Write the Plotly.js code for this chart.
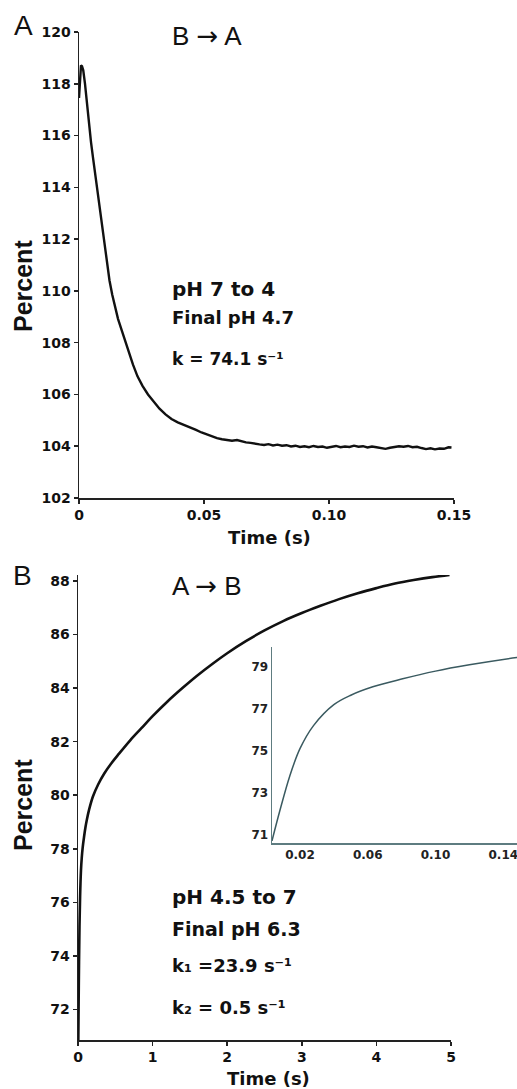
<!DOCTYPE html>
<html>
<head>
<meta charset="utf-8">
<script src="https://cdn.plot.ly/plotly-3.0.1.min.js"></script>
<style>html,body{margin:0;padding:0;background:#fff;}#chart{width:517px;height:1089px;}</style>
</head>
<body>
<div id="chart"></div>
<script>
// Panel A: B -> A, pH 7 to 4
const aTime = [0, 0.0004, 0.0008, 0.0012, 0.0017, 0.0024, 0.0032, 0.0040, 0.0048, 0.0056, 0.0064, 0.0072, 0.0080, 0.0090, 0.0100, 0.0111, 0.0122, 0.0133, 0.0144, 0.0156, 0.0170, 0.0184, 0.0200, 0.0216, 0.0234, 0.0254, 0.0276, 0.0298, 0.0322, 0.0346, 0.0370, 0.0395, 0.0420, 0.0444, 0.0468, 0.0490, 0.0511, 0.0532, 0.0552, 0.0572, 0.0592, 0.0612, 0.0632, 0.0650, 0.0668, 0.0686, 0.0704, 0.0722, 0.0740, 0.0758, 0.0776, 0.0794, 0.0812, 0.0830, 0.0848, 0.0866, 0.0884, 0.0902, 0.0920, 0.0938, 0.0956, 0.0974, 0.0992, 0.1010, 0.1028, 0.1046, 0.1064, 0.1082, 0.1100, 0.1118, 0.1136, 0.1154, 0.1172, 0.1190, 0.1208, 0.1226, 0.1244, 0.1262, 0.1280, 0.1298, 0.1316, 0.1334, 0.1352, 0.1370, 0.1388, 0.1406, 0.1424, 0.1442, 0.1460, 0.1478, 0.1490];
const aPercent = [117.45, 118.3, 118.71, 118.68, 118.52, 118.0, 117.15, 116.35, 115.75, 115.15, 114.58, 114.0, 113.4, 112.62, 111.85, 111.05, 110.4, 109.85, 109.38, 108.92, 108.5, 108.07, 107.62, 107.15, 106.7, 106.33, 106.0, 105.72, 105.45, 105.23, 105.05, 104.92, 104.83, 104.74, 104.63, 104.53, 104.45, 104.37, 104.31, 104.27, 104.24, 104.21, 104.24, 104.19, 104.15, 104.13, 104.09, 104.07, 104.05, 104.08, 104.03, 104.06, 104.02, 104.04, 103.99, 104.02, 103.97, 104.0, 103.96, 104.01, 103.97, 103.99, 103.94, 103.98, 104.01, 103.96, 103.99, 103.97, 104.02, 103.98, 104.0, 103.95, 103.99, 103.96, 103.93, 103.9, 103.94, 103.97, 104.0, 103.98, 104.01, 103.96, 103.98, 103.93, 103.89, 103.92, 103.88, 103.91, 103.9, 103.96, 103.95];

// Panel B: A -> B, pH 4.5 to 7 (inset shows the first 0.15 s of the same trace)
const bTime = [0.0035, 0.008, 0.014, 0.02, 0.028, 0.04, 0.05, 0.063, 0.08, 0.1, 0.12, 0.148, 0.2, 0.27, 0.35, 0.45, 0.55, 0.7, 0.85, 1.0, 1.2, 1.4, 1.6, 1.8, 2.0, 2.25, 2.5, 2.75, 3.0, 3.25, 3.5, 3.75, 4.0, 4.25, 4.5, 4.75, 4.98];
const bPercent = [70.7, 72.1, 73.8, 75.1, 76.2, 77.2, 77.65, 78.05, 78.42, 78.8, 79.1, 79.45, 79.95, 80.4, 80.8, 81.2, 81.55, 82.05, 82.5, 82.95, 83.5, 84.0, 84.47, 84.9, 85.3, 85.75, 86.15, 86.5, 86.8, 87.07, 87.32, 87.54, 87.73, 87.9, 88.03, 88.14, 88.22];

// Tick values / labels
const aXTicks = [0, 0.05, 0.10, 0.15];
const aXTickText = ['0', '0.05', '0.10', '0.15'];
const aYTicks = [102, 104, 106, 108, 110, 112, 114, 116, 118, 120];
const bXTicks = [0, 1, 2, 3, 4, 5];
const bYTicks = [72, 74, 76, 78, 80, 82, 84, 86, 88];
const insetXTicks = [0.02, 0.06, 0.10, 0.14];
const insetXTickText = ['0.02', '0.06', '0.10', '0.14'];
const insetYTicks = [71, 73, 75, 77, 79];

const W = 517, H = 1089;
const px = v => v / W;
const py = v => 1 - v / H;
const bold = arr => arr.map(v => '<b>' + v + '</b>');

const tickFont = {family: 'DejaVu Sans', size: 14, weight: 'bold', color: '#111'};
const insetTickFont = {family: 'DejaVu Sans', size: 12, weight: 'bold', color: '#222'};
const axisBase = () => ({
  showline: true, linecolor: '#222', linewidth: 1.5,
  ticks: 'outside', ticklen: 4, tickwidth: 1.5, tickcolor: '#222',
  showgrid: false, zeroline: false, tickfont: Object.assign({}, tickFont), fixedrange: true,
  tickmode: 'array'
});
const insetAxis = () => ({
  showline: true, linecolor: '#5e7c80', linewidth: 1.5,
  ticks: '', showgrid: false, zeroline: false, tickfont: Object.assign({}, insetTickFont), fixedrange: true,
  tickmode: 'array', ticklabeloverflow: 'allow'
});

const traces = [
  {x: aTime, y: aPercent, xaxis: 'x', yaxis: 'y', mode: 'lines',
   line: {color: '#111', width: 2.4}, hoverinfo: 'skip'},
  {x: bTime, y: bPercent, xaxis: 'x2', yaxis: 'y2', mode: 'lines',
   line: {color: '#111', width: 2.6, shape: 'spline', smoothing: 1}, hoverinfo: 'skip'},
  {x: bTime, y: bPercent, xaxis: 'x3', yaxis: 'y3', mode: 'lines',
   line: {color: '#3a5a60', width: 1.5, shape: 'spline', smoothing: 1}, hoverinfo: 'skip'}
];

const boldF = (s) => ({family: 'DejaVu Sans', size: s, weight: 'bold', color: '#111'});
const regF = (s) => ({family: 'Liberation Sans, Arial', size: s, color: '#111'});
const arrow = '<span style="font-family:DejaVu Sans">\u2192</span>';

const ann = (text, x, y, font, xanchor, extra) => Object.assign({
  text: text, xref: 'paper', yref: 'paper', x: px(x), y: py(y),
  xanchor: xanchor || 'left', yanchor: 'middle', showarrow: false, font: font
}, extra || {});

const pctFont = {family: 'Liberation Sans, Arial', size: 25, weight: 'bold', color: '#111'};

const annotations = [
  ann('A', 23, 26, regF(28), 'center'),
  ann('B ' + arrow + ' A', 170, 36, regF(26)),
  ann('pH 7 to 4', 170, 289, boldF(20)),
  ann('Final pH 4.7', 170, 317, boldF(18)),
  ann('k = 74.1 s\u207B\u00B9', 170, 359, boldF(17)),
  ann('Percent', 23, 286, pctFont, 'center', {textangle: -90}),
  ann('Time (s)', 269, 537, boldF(18), 'center'),

  ann('B', 22, 575, regF(28), 'center'),
  ann('A ' + arrow + ' B', 170, 586, regF(26)),
  ann('pH 4.5 to 7', 170, 897, boldF(20)),
  ann('Final pH 6.3', 170, 929, boldF(19)),
  ann('k\u2081 =23.9 s\u207B\u00B9', 170, 965, boldF(18)),
  ann('k\u2082 = 0.5 s\u207B\u00B9', 170, 1007, boldF(18)),
  ann('Percent', 23, 805, pctFont, 'center', {textangle: -90}),
  ann('Time (s)', 268, 1078, boldF(18), 'center')
];

const layout = {
  width: W, height: H,
  margin: {l: 0, r: 0, t: 0, b: 0},
  font: {family: 'DejaVu Sans', size: 14, color: '#111'},
  paper_bgcolor: '#fff', plot_bgcolor: 'rgba(0,0,0,0)',
  showlegend: false,
  xaxis: Object.assign(axisBase(), {domain: [px(79), px(454)], range: [0, 0.15], anchor: 'y',
    tickvals: aXTicks, ticktext: bold(aXTickText)}),
  yaxis: Object.assign(axisBase(), {domain: [py(498), py(32)], range: [102, 120], anchor: 'x',
    tickvals: aYTicks, ticktext: bold(aYTicks)}),
  xaxis2: Object.assign(axisBase(), {domain: [px(78), px(451)], range: [0, 5], anchor: 'y2',
    tickvals: bXTicks, ticktext: bold(bXTicks)}),
  yaxis2: Object.assign(axisBase(), {domain: [py(1040), py(575)], range: [70.86, 88.22], anchor: 'x2',
    tickvals: bYTicks, ticktext: bold(bYTicks)}),
  xaxis3: Object.assign(insetAxis(), {domain: [px(272), 1], range: [0.0035, 0.1481], anchor: 'y3',
    tickvals: insetXTicks, ticktext: bold(insetXTickText)}),
  yaxis3: Object.assign(insetAxis(), {domain: [py(843), py(647)], range: [70.6, 79.95], anchor: 'x3',
    tickvals: insetYTicks, ticktext: bold(insetYTicks)}),
  annotations: annotations
};

Plotly.newPlot('chart', traces, layout, {displayModeBar: false, staticPlot: true});
</script>
</body>
</html>
